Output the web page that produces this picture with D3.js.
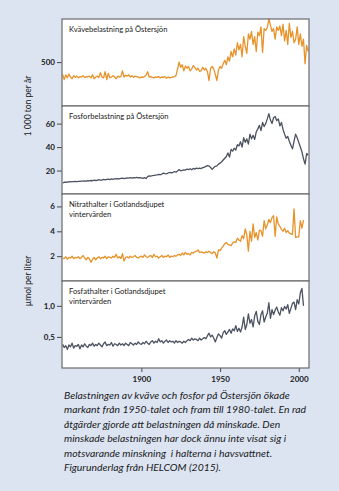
<!DOCTYPE html>
<html>
<head>
<meta charset="utf-8">
<script src="https://cdn.jsdelivr.net/npm/d3@7"></script>
<style>
  body { margin: 0; background: #dce4f2; }
  svg { display: block; font-family: Lato, "Open Sans", sans-serif; }
</style>
</head>
<body>
<svg id="chart"></svg>
<script>
// yearly series, first value = 1850
const startYear = 1850;

// Kvävebelastning (1000 ton per år)
const nitrogenLoad = [
  360, 300, 355, 320, 365, 330, 310, 345, 325, 340,
  320, 335, 330, 345, 325, 330, 335, 340, 320, 355,
  310, 330, 340, 325, 380, 330, 320, 390, 300, 370,
  320, 330, 345, 330, 310, 340, 330, 335, 400, 330,
  350, 340, 355, 330, 345, 325, 340, 335, 330, 320,
  330, 325, 335, 350, 390, 330, 335, 325, 320, 330,
  325, 335, 320, 330, 325, 335, 315, 330, 320, 325,
  330, 335, 345, 420, 500, 440, 470, 400, 455, 430,
  450, 400, 420, 460, 440, 410, 430, 395, 400, 440,
  410, 430, 390, 290, 430, 450, 420, 360, 290, 410,
  450, 430, 480, 520, 470, 560, 510, 620, 560, 650,
  580, 720, 640, 700, 560, 790, 680, 600, 820, 760,
  850, 700, 790, 620, 840, 800, 900, 610, 880, 860,
  890, 990, 920, 850, 880, 760, 900, 860, 910, 800,
  930, 740, 860, 700, 940, 780, 850, 720, 760, 900,
  700, 820, 680, 760, 480, 690, 620
];

// Fosforbelastning (1000 ton per år)
const phosphorusLoad = [
  9.5, 10, 10, 10.2, 10.5, 10.3, 10.6, 10.5, 10.8, 10.6,
  10.8, 10.7, 11, 10.9, 11.2, 11, 11.3, 11.2, 11.5, 11.3,
  11.8, 11.5, 11.6, 12.2, 11.8, 11.9, 12.5, 12.1, 12.4, 12.6,
  12.3, 12.8, 12.5, 13, 12.8, 13.1, 12.9, 13.3, 13.6, 13.2,
  13.4, 13.8, 13.5, 13.9, 13.6, 14, 13.8, 14.1, 13.7, 14,
  13.8, 13.4, 13.9, 13.2, 14.8, 15.5, 15.3, 15.6, 15.8, 16.1,
  16.3, 16.7, 16.4, 17.0, 17.8, 17.4, 17.2, 17.9, 18.4, 18.1,
  18.3, 19.2, 18.6, 19.7, 20.8, 19.8, 20.2, 20.6, 20.4, 21.2,
  20.8, 21.5, 20.6, 21.8, 21.2, 22.1, 21.6, 22.0, 21.7, 22.5,
  22.8, 23.5, 24.2, 23.8, 22.6, 21.0, 22.5, 23.6, 24.0, 25.5,
  26.3, 27.5, 29.0, 30.5, 32.0, 35.0, 31.5, 38.0, 36.5, 39.0,
  37.5, 42.0, 41.0, 44.5, 40.0, 48.0, 44.0, 47.0, 42.5, 51.0,
  47.0, 50.0, 46.5, 53.0, 55.5, 58.5, 54.0, 61.0, 57.5, 60.0,
  64.0, 68.5, 63.0, 60.0, 65.0, 66.0, 62.5, 64.0, 58.0, 61.0,
  55.0, 51.0, 47.5, 49.0, 45.0, 41.5, 38.5, 45.0, 51.0, 48.0,
  44.0, 40.0, 36.0, 30.0, 25.5, 34.5, 33.0
];

// Nitrathalter i Gotlandsdjupet, vintervärden (µmol per liter)
const nitrate = [
  1.85, 1.80, 1.95, 1.75, 1.90, 1.85, 2.00, 1.80, 1.90, 1.85,
  1.95, 1.80, 1.90, 2.05, 1.85, 1.70, 1.90, 1.80, 1.50, 1.75,
  1.90, 1.70, 1.85, 1.95, 1.80, 1.90, 1.85, 2.00, 1.80, 1.95,
  1.90, 1.85, 2.00, 1.90, 2.15, 1.85, 1.95, 1.80, 2.20, 1.60,
  1.90, 1.95, 1.85, 2.00, 1.90, 1.95, 2.05, 1.90, 1.85, 1.95,
  2.00, 1.90, 2.10, 1.95, 1.90, 2.00, 2.05, 1.90, 2.15, 1.95,
  2.00, 1.85, 1.95, 2.05, 1.90, 2.00, 1.95, 2.10, 1.90, 2.00,
  1.95, 2.05, 2.00, 2.10, 2.15, 2.05, 2.25, 2.10, 2.30, 2.15,
  2.20, 2.10, 2.30, 2.25, 2.35, 2.40, 2.50, 2.30, 2.35, 2.30,
  2.25, 2.35, 2.30, 2.40, 2.30, 2.20, 2.35, 2.25, 1.85, 2.50,
  2.45, 2.65, 2.80, 3.00, 3.10, 2.95, 2.90, 2.85, 3.05, 3.15,
  3.10, 3.45, 3.30, 3.20, 3.65, 3.40, 4.20, 3.70, 2.40, 4.00,
  3.20, 4.60, 3.50, 3.90, 3.30, 4.10, 4.05, 3.60, 4.85, 4.20,
  4.50, 4.95, 4.70, 5.10, 5.25, 3.60, 5.15, 4.60, 4.40, 4.15,
  4.00, 4.25, 3.90, 4.05, 3.85, 3.80, 3.75, 5.80, 3.50, 3.55,
  3.55, 4.85, 4.25, 4.90
];

// Fosfathalter i Gotlandsdjupet, vintervärden (µmol per liter)
const phosphate = [
  0.38, 0.33, 0.36, 0.30, 0.37, 0.34, 0.40, 0.32, 0.36, 0.35,
  0.38, 0.31, 0.37, 0.34, 0.39, 0.35, 0.33, 0.38, 0.36, 0.40,
  0.35, 0.38, 0.36, 0.40, 0.37, 0.34, 0.39, 0.42, 0.36, 0.38,
  0.37, 0.41, 0.35, 0.39, 0.38, 0.36, 0.40, 0.37, 0.39, 0.36,
  0.40, 0.38, 0.36, 0.41, 0.39, 0.37, 0.40, 0.38, 0.42, 0.39,
  0.38, 0.41, 0.39, 0.43, 0.40, 0.38, 0.42, 0.44, 0.40, 0.43,
  0.41, 0.47, 0.42, 0.44, 0.40, 0.43, 0.45, 0.41, 0.44, 0.42,
  0.43, 0.40, 0.44, 0.41, 0.43, 0.42, 0.40, 0.43, 0.41, 0.44,
  0.46, 0.44, 0.48, 0.45, 0.47, 0.46, 0.44, 0.48, 0.45, 0.47,
  0.49, 0.47, 0.52, 0.56, 0.50, 0.53, 0.48, 0.42, 0.49, 0.55,
  0.52, 0.48, 0.57, 0.60, 0.54, 0.58, 0.62, 0.56, 0.63, 0.60,
  0.68, 0.59, 0.64, 0.58, 0.66, 0.82, 0.62, 0.70, 0.87, 0.72,
  0.78, 0.66, 0.84, 0.91, 0.75, 0.70, 0.86, 0.92, 0.74, 0.82,
  0.88, 1.05, 0.80, 0.94, 0.86, 0.93, 0.98, 0.90, 0.85, 0.97,
  0.92, 0.99, 0.95, 1.02, 0.88, 0.96, 1.04, 1.06, 0.94, 1.10,
  1.03, 1.21, 1.28, 1.00
];

const xTicks = [1900, 1950, 2000];
const titles = [
  ["Kvävebelastning på Östersjön"],
  ["Fosforbelastning på Östersjön"],
  ["Nitrathalter i Gotlandsdjupet", "vintervärden"],
  ["Fosfathalter i Gotlandsdjupet", "vintervärden"]
];
const yTicks = [[500], [20, 40, 60], [2, 4, 6], [0.5, 1.0]];
const yLabels = ["1 000 ton per år", "µmol per liter"];
const caption = [
  "Belastningen av kväve och fosfor på Östersjön ökade",
  "markant från 1950-talet och fram till 1980-talet. En rad",
  "åtgärder gjorde att belastningen då minskade. Den",
  "minskade belastningen har dock ännu inte visat sig i",
  "motsvarande minskning  i halterna i havsvattnet.",
  "Figurunderlag från HELCOM (2015)."
];

const orange = "#e8922a", slate = "#4b5260";

const width = 339, height = 491;
const svg = d3.select("#chart").attr("width", width).attr("height", height);

svg.append("rect").attr("width", width).attr("height", height).attr("fill", "#dce4f2");

const x = d3.scaleLinear().domain([1849.6, 2006.5]).range([62, 309]);

const comma = d => d3.format(".1f")(d).replace(".", ",");

const panels = [
  {top: 19,  bottom: 106, domain: [0, 990], data: nitrogenLoad,   color: orange, fmt: d3.format("d")},
  {top: 106, bottom: 194, domain: [0, 75],  data: phosphorusLoad, color: slate,  fmt: d3.format("d")},
  {top: 194, bottom: 281, domain: [0, 7],   data: nitrate,        color: orange, fmt: d3.format("d")},
  {top: 281, bottom: 368, domain: [0, 1.4], data: phosphate,      color: slate,  fmt: comma}
];

panels.forEach((p, k) => {
  const y = d3.scaleLinear().domain(p.domain).range([p.bottom, p.top]);
  const g = svg.append("g");

  g.append("rect")
    .attr("x", x.range()[0]).attr("y", p.top)
    .attr("width", x.range()[1] - x.range()[0]).attr("height", p.bottom - p.top)
    .attr("fill", "#fff");

  const line = d3.line()
    .x((d, i) => x(startYear + i))
    .y(d => y(d));

  g.append("path")
    .datum(p.data)
    .attr("fill", "none")
    .attr("stroke", p.color)
    .attr("stroke-width", 1.3)
    .attr("stroke-linejoin", "round")
    .attr("d", line);

  // y axis
  const ya = g.append("g")
    .attr("transform", "translate(" + x.range()[0] + ",0)")
    .call(d3.axisLeft(y).tickValues(yTicks[k]).tickSize(5).tickPadding(2).tickFormat(p.fmt));
  ya.select(".domain").remove();

  // x axis (labels only under last panel)
  const last = k === panels.length - 1;
  const xa = g.append("g")
    .attr("transform", "translate(0," + p.bottom + ")")
    .call(d3.axisBottom(x).tickValues(xTicks).tickSize(4).tickPadding(4)
      .tickFormat(last ? d3.format("d") : ""));
  xa.select(".domain").remove();

  [ya, xa].forEach(a => {
    a.selectAll("line").attr("stroke", "#555").attr("stroke-width", 1.1);
    a.selectAll("text").attr("fill", "#1a1a1a").style("font-size", "8px").style("font-weight", "bold")
      .style("font-family", "Lato, sans-serif");
  });

  // frame
  g.append("rect")
    .attr("x", x.range()[0]).attr("y", p.top)
    .attr("width", x.range()[1] - x.range()[0]).attr("height", p.bottom - p.top)
    .attr("fill", "none").attr("stroke", "#6b6b6b").attr("stroke-width", 1.2);

  // title
  const t = g.append("text")
    .attr("x", 69).attr("y", p.top + 12.5)
    .attr("fill", "#1a1a1a").style("font-size", "7.6px");
  titles[k].forEach((s, j) => {
    t.append("tspan").attr("x", 69).attr("dy", j === 0 ? 0 : 10).text(s);
  });
});

// y labels
[[106, yLabels[0]], [281, yLabels[1]]].forEach(([cy, s]) => {
  svg.append("text")
    .attr("transform", "translate(31," + cy + ") rotate(-90)")
    .attr("text-anchor", "middle")
    .attr("fill", "#1a1a1a")
    .style("font-size", "8.5px")
    .text(s);
});

// caption
const cap = svg.append("text")
  .attr("x", 64).attr("y", 399)
  .attr("fill", "#1a1a1a")
  .style("font-size", "10.4px").style("font-style", "italic");
caption.forEach((s, i) => {
  cap.append("tspan").attr("x", 64).attr("dy", i === 0 ? 0 : 14.4).attr("xml:space", "preserve").text(s);
});
</script>
</body>
</html>
